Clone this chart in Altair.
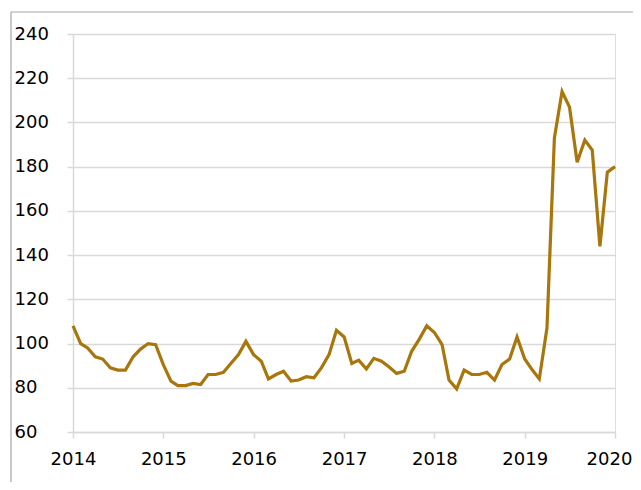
import altair as alt
import pandas as pd

# Monthly values, Jan 2014 .. Jan 2020
values = [
    108, 100, 98, 94, 93, 89, 88, 88, 94, 97.5, 100, 99.5,      # 2014
    90.5, 83, 81, 81, 82, 81.5, 86, 86, 87, 91, 95, 101,        # 2015
    95, 92, 84, 86, 87.5, 83, 83.5, 85, 84.5, 89, 95, 106,      # 2016
    103, 91, 92.5, 88.5, 93.3, 92, 89.5, 86.5, 87.5, 96.5, 102, 108,  # 2017
    105, 99.5, 83.5, 79.5, 88, 86, 86, 87, 83.5, 90.5, 93, 103,  # 2018
    93, 88, 84, 107, 193, 214, 207, 182, 192, 187.5, 144, 177.5,  # 2019
    180,                                                          # 2020
]
dates = pd.date_range("2014-01-01", periods=len(values), freq="MS")
year_ticks = [f"{y}-01-01" for y in range(2014, 2021)]
y_ticks = list(range(60, 241, 20))

df = pd.DataFrame({"date": dates, "value": values})

FONT = "DejaVu Sans"
GRID = "#d9d9d9"

line = alt.Chart(df).mark_line(color="#A8760A", strokeWidth=3.2, clip=False).encode(
    x=alt.X(
        "date:T",
        scale=alt.Scale(domain=["2014-01-01", "2020-01-01"]),
        axis=alt.Axis(
            values=year_ticks,
            format="%Y",
            title=None,
            grid=False,
            domainColor=GRID,
            domainWidth=1.5,
            tickColor=GRID,
            tickWidth=1.5,
            tickSize=6,
            labelPadding=12,
            labelFont=FONT,
            labelFontSize=18,
            labelColor="#000000",
            labelFlush=False,
            labelOverlap=False,
            labelOffset={"condition": {"test": "year(datum.value) >= 2020", "value": -6}, "value": 0},
        ),
    ),
    y=alt.Y(
        "value:Q",
        scale=alt.Scale(domain=[60, 240], nice=False, zero=False),
        axis=alt.Axis(
            values=y_ticks,
            title=None,
            grid=True,
            gridColor=GRID,
            gridWidth=1.5,
            domainColor=GRID,
            domainWidth=1.5,
            tickColor=GRID,
            tickWidth=1.5,
            tickSize=6,
            labelAlign="left",
            labelPadding=53,
            labelFont=FONT,
            labelFontSize=18,
            labelColor="#000000",
            labelFlush=False,
        ),
    ),
)

frame_v = alt.Chart(df.head(1)).mark_rule(color="#a6a6a6", strokeWidth=1.2, clip=False).encode(
    x=alt.value(-62), y=alt.value(-22), y2=alt.value(500)
)
frame_h = alt.Chart(df.head(1)).mark_rule(color="#a6a6a6", strokeWidth=1.2, clip=False).encode(
    x=alt.value(-62), x2=alt.value(700), y=alt.value(-22)
)

chart = (
    alt.layer(frame_v, frame_h, line)
    .properties(
        width=542,
        height=398,
        autosize=alt.AutoSizeParams(type="none"),
        padding={"left": 65, "top": 26, "right": 18, "bottom": 50},
    )
    .configure_view(stroke=None)
    .configure(background="#ffffff")
)

chart.save("out.html", embed_options={"renderer": "svg", "actions": False})
